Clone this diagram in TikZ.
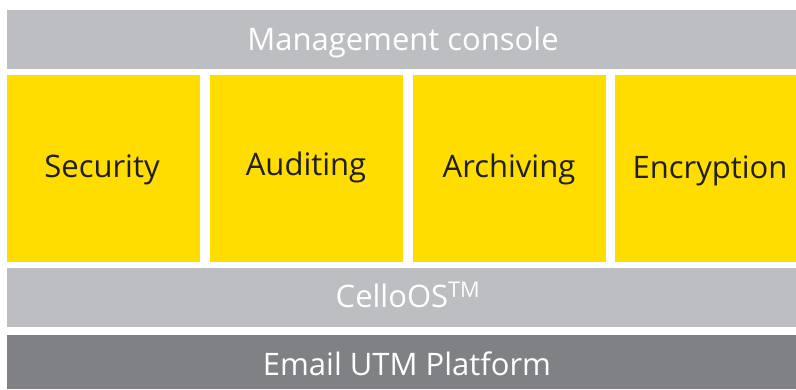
\documentclass[tikz,border=0pt]{standalone}
\usepackage{fontspec}
\setmainfont{Open Sans}
\definecolor{lgray}{HTML}{BDBEC2}
\definecolor{dgray}{HTML}{808185}
\definecolor{yel}{HTML}{FFDD00}
\begin{document}
\begin{tikzpicture}[x=1pt,y=-1pt,
  bar/.style={fill=lgray,draw=none},
  ybox/.style={fill=yel,draw=none},
  wlabel/.style={text=white,font=\fontsize{31}{34}\selectfont,inner sep=0pt,anchor=base},
  blabel/.style={text=black!88,font=\fontsize{31}{34}\selectfont,inner sep=0pt,anchor=base}]
\useasboundingbox (0,0) rectangle (796,389);
\fill[white] (0,0) rectangle (796,389);
\fill[bar] (7,10) rectangle (796,69);
\node[wlabel] (mc) at (403,50) {Management console};
\fill[ybox] (7,75) rectangle (200,262);
\fill[ybox] (210,75) rectangle (403,262);
\fill[ybox] (413,75) rectangle (606,262);
\fill[ybox] (615,75) rectangle (796,262);
\node[blabel] (sec) at (102,177) {Security};
\node[blabel] (aud) at (306,175) {Auditing};
\node[blabel] (arc) at (509,177) {Archiving};
\node[blabel] (enc) at (710,178) {Encryption};
\fill[bar] (7,268) rectangle (796,327);
\node[wlabel] (os) at (408,307) {CelloOS\textsuperscript{TM}};
\fill[dgray] (7,335) rectangle (796,389);
\node[wlabel] (em) at (407,375) {Email UTM Platform};
\end{tikzpicture}
\end{document}
